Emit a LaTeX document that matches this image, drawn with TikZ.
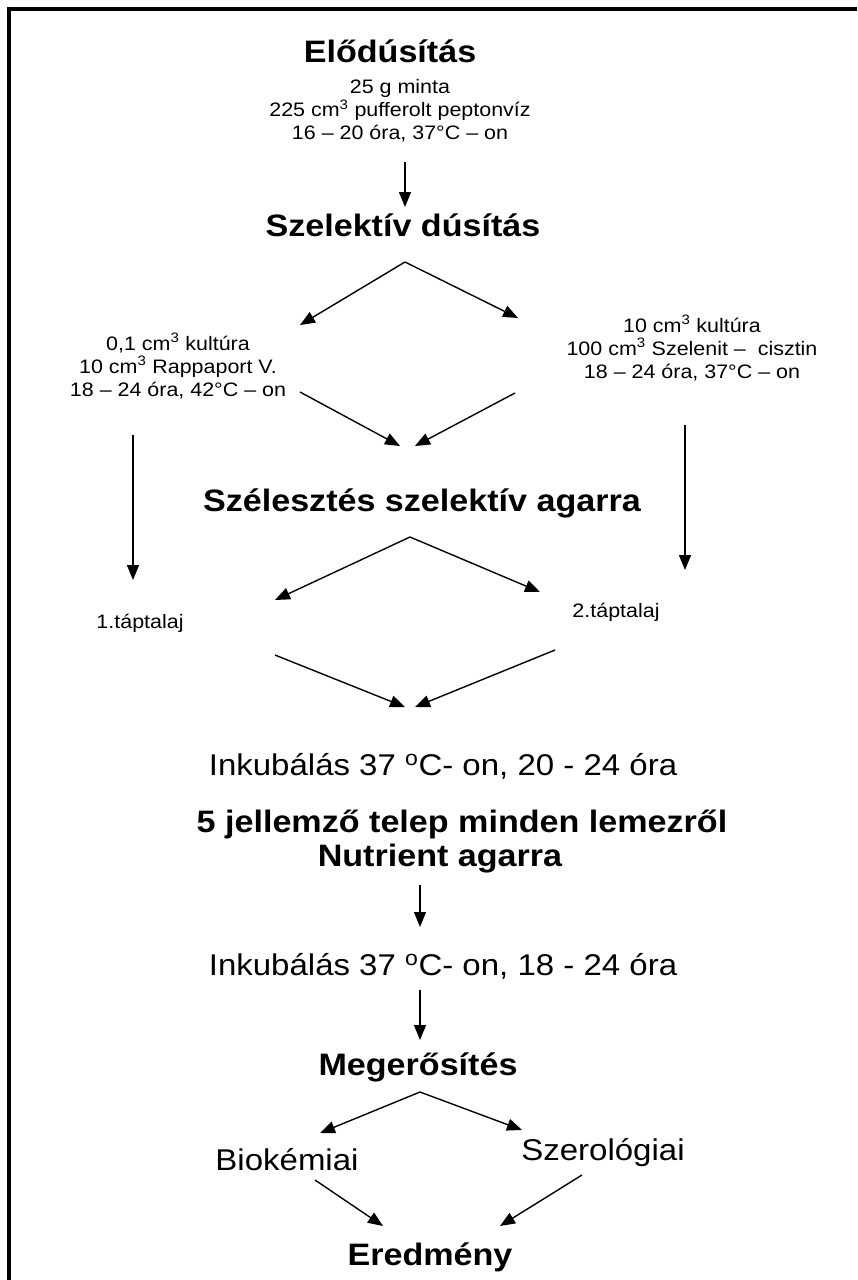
\documentclass[tikz,border=0pt]{standalone}
\usepackage{fontspec}
\setmainfont{Liberation Sans}[FakeStretch=1.1]
\usetikzlibrary{arrows.meta}
\tikzset{
  headtext/.style={font=\bfseries\fontsize{31}{36}\selectfont, inner sep=0pt, anchor=base},
  bigtext/.style={font=\fontsize{30}{36}\selectfont, inner sep=0pt, anchor=base},
  smalltext/.style={font=\fontsize{19.5}{23}\selectfont, align=center, inner sep=0pt},
  tinytext/.style={font=\fontsize{19.5}{23}\selectfont, inner sep=0pt, anchor=base},
  arr/.style={-{Triangle[length=15pt,width=12pt]}, line width=1.4pt},
  frameline/.style={fill=black},
}
\begin{document}
\begin{tikzpicture}[x=1pt,y=-1pt]
\useasboundingbox (0,0) rectangle (857,1280);
\fill[frameline] (7,7) rectangle (857,11);
\fill[frameline] (7,7) rectangle (11,1280);

% texts
\node[headtext] (t1) at (390,62) {Elődúsítás};
\node[smalltext] (p1) at (400,111) {25 g minta\\225 cm\textsuperscript{3} pufferolt peptonvíz\\16 – 20 óra, 37°C – on};
\node[headtext] (t2) at (403,236) {Szelektív dúsítás};
\node[smalltext] (lb) at (178,366) {0,1 cm\textsuperscript{3} kultúra\\10 cm\textsuperscript{3} Rappaport V.\\18 – 24 óra, 42°C – on};
\node[smalltext] (rb) at (692,348) {10 cm\textsuperscript{3} kultúra\\100 cm\textsuperscript{3} Szelenit –\ \ cisztin\\18 – 24 óra, 37°C – on};
\node[headtext] (t3) at (422,511) {Szélesztés szelektív agarra};
\node[tinytext] (tl1) at (140,628) {1.táptalaj};
\node[tinytext] (tl2) at (616,617) {2.táptalaj};
\node[bigtext] (ink1) at (443,775) {Inkubálás 37 \textsuperscript{o}C- on, 20 - 24 óra};
\node[headtext] (t4) at (462,832) {5 jellemző telep minden lemezről};
\node[headtext] (t5) at (440,866) {Nutrient agarra};
\node[bigtext] (ink2) at (443,975) {Inkubálás 37 \textsuperscript{o}C- on, 18 - 24 óra};
\node[headtext] (t6) at (418,1075) {Megerősítés};
\node[bigtext] (bio) at (287,1170) {Biokémiai};
\node[bigtext] (sze) at (603,1160) {Szerológiai};
\node[headtext] (t7) at (430,1265) {Eredmény};

% connector end points
\coordinate (a1s) at (405,162); \coordinate (a1e) at (405,207);
\coordinate (s1) at (405,262); \coordinate (s1l) at (300,325); \coordinate (s1r) at (518,318);
\coordinate (m1l) at (300,392); \coordinate (m1le) at (400,446);
\coordinate (m1r) at (515,393); \coordinate (m1re) at (415,446);
\coordinate (vl) at (133,435); \coordinate (vle) at (133,580);
\coordinate (vr) at (685,425); \coordinate (vre) at (685,570);
\coordinate (s2) at (410,537); \coordinate (s2l) at (275,600); \coordinate (s2r) at (540,592);
\coordinate (m2l) at (275,655); \coordinate (m2le) at (405,707);
\coordinate (m2r) at (555,650); \coordinate (m2re) at (415,707);
\coordinate (a2s) at (420,885); \coordinate (a2e) at (420,927);
\coordinate (a3s) at (420,990); \coordinate (a3e) at (420,1040);
\coordinate (s3) at (420,1092); \coordinate (s3l) at (320,1133); \coordinate (s3r) at (522,1130);
\coordinate (m3l) at (315,1180); \coordinate (m3le) at (383,1226);
\coordinate (m3r) at (582,1175); \coordinate (m3re) at (500,1226);

% connectors
\draw[arr] (a1s) -- (a1e);
\draw[arr] (s1) -- (s1l);
\draw[arr] (s1) -- (s1r);
\draw[arr] (m1l) -- (m1le);
\draw[arr] (m1r) -- (m1re);
\draw[arr] (vl) -- (vle);
\draw[arr] (vr) -- (vre);
\draw[arr] (s2) -- (s2l);
\draw[arr] (s2) -- (s2r);
\draw[arr] (m2l) -- (m2le);
\draw[arr] (m2r) -- (m2re);
\draw[arr] (a2s) -- (a2e);
\draw[arr] (a3s) -- (a3e);
\draw[arr] (s3) -- (s3l);
\draw[arr] (s3) -- (s3r);
\draw[arr] (m3l) -- (m3le);
\draw[arr] (m3r) -- (m3re);
\end{tikzpicture}
\end{document}
